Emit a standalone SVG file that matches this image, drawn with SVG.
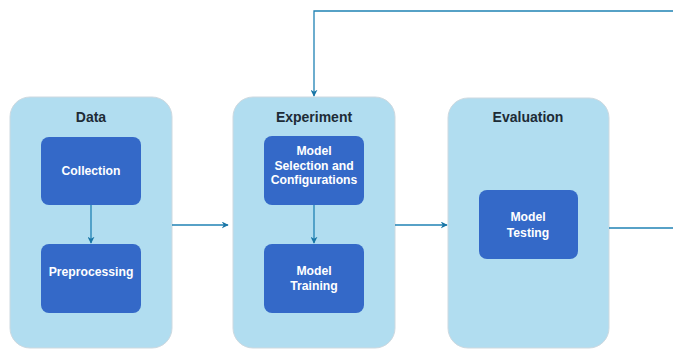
<svg xmlns="http://www.w3.org/2000/svg" width="673" height="349" viewBox="0 0 673 349">
<defs>
<style>
.cont{fill:#b1ddf0;stroke:#cdd9e0;stroke-width:1}
.box{fill:#3469c8;stroke:none}
.title{font-family:"Liberation Sans",Arial,sans-serif;font-size:14px;font-weight:bold;fill:#1d2b36;text-anchor:middle}
.lbl{font-family:"Liberation Sans",Arial,sans-serif;font-size:12.2px;font-weight:bold;fill:#ffffff;text-anchor:middle}
.edge{fill:none;stroke:#1f82b4;stroke-width:1.3}
</style>
<marker id="arr" viewBox="0 0 10 10" refX="9" refY="5" markerWidth="7" markerHeight="7" markerUnits="userSpaceOnUse" orient="auto">
<path d="M0,0 L10,5 L0,10 L3,5 Z" fill="#1a76a6"/>
</marker>
</defs>
<g id="data">
<rect class="cont" x="10" y="97" width="162" height="251" rx="20"/>
<text class="title" x="91" y="122">Data</text>
</g>
<g id="collection">
<rect class="box" x="41" y="137" width="100" height="68" rx="8"/>
<text class="lbl" x="91" y="175">Collection</text>
</g>
<g id="preprocessing">
<rect class="box" x="41" y="244" width="100" height="69" rx="8"/>
<text class="lbl" x="91" y="276">Preprocessing</text>
</g>
<g id="experiment">
<rect class="cont" x="233" y="97" width="162" height="251" rx="20"/>
<text class="title" x="314" y="122">Experiment</text>
</g>
<g id="model-selection">
<rect class="box" x="264" y="136" width="100" height="69" rx="8"/>
<text class="lbl" x="314" y="155">Model</text>
<text class="lbl" x="314" y="169.5">Selection and</text>
<text class="lbl" x="314" y="184">Configurations</text>
</g>
<g id="model-training">
<rect class="box" x="264" y="244" width="100" height="69" rx="8"/>
<text class="lbl" x="314" y="275">Model</text>
<text class="lbl" x="314" y="290">Training</text>
</g>
<g id="evaluation">
<rect class="cont" x="448" y="98" width="161" height="250" rx="20"/>
<text class="title" x="528" y="122">Evaluation</text>
</g>
<g id="model-testing">
<rect class="box" x="479" y="190" width="99" height="69" rx="8"/>
<text class="lbl" x="528" y="221">Model</text>
<text class="lbl" x="528" y="237">Testing</text>
</g>
<g id="connectors">
<path class="edge" d="M91,205 L91,243" marker-end="url(#arr)"/>
<path class="edge" d="M314,205 L314,243" marker-end="url(#arr)"/>
<path class="edge" d="M172,225 L228,225" marker-end="url(#arr)"/>
<path class="edge" d="M395,225 L447,225" marker-end="url(#arr)"/>
<path class="edge" d="M609,228 L673,228"/>
<path class="edge" d="M673,11 L314,11 L314,96" marker-end="url(#arr)"/>
</g>
</svg>
